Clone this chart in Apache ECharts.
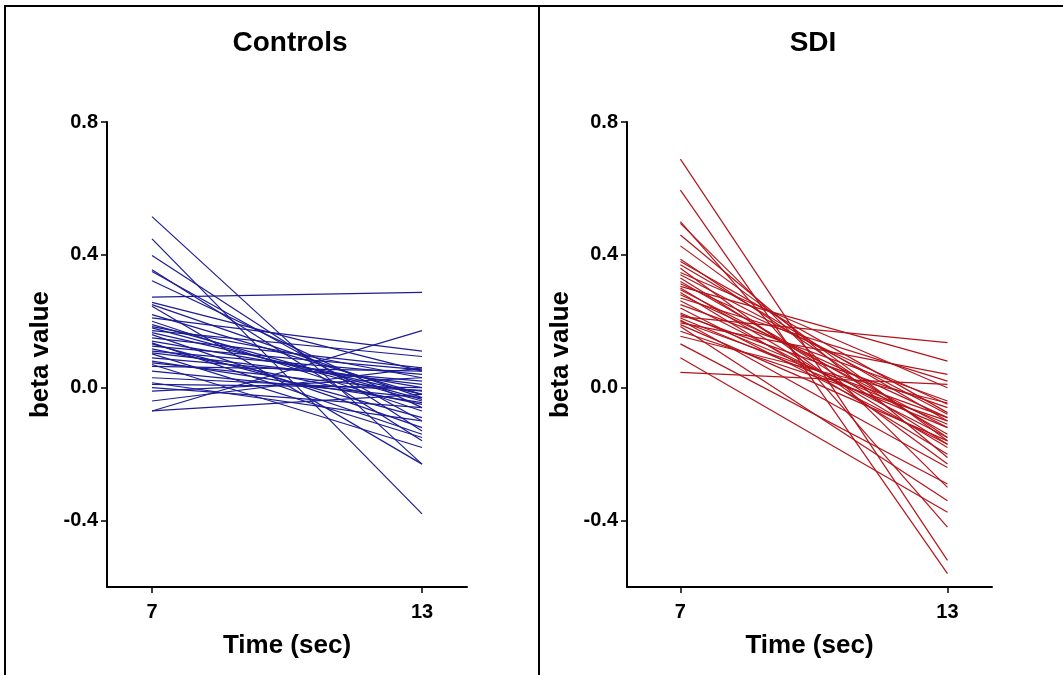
<!DOCTYPE html>
<html>
<head>
<meta charset="utf-8">
<script src="https://cdn.jsdelivr.net/npm/echarts@6/dist/echarts.min.js"></script>
<style>html,body{margin:0;padding:0;background:#fff}#c{width:1063px;height:675px}</style>
</head>
<body>
<div id="c"></div>
<script>
const timePoints = [7, 13];
const xTickLabels = [7, 13];
const yTickLabels = [-0.4, 0, 0.4, 0.8];
const panelTitles = ['Controls', 'SDI'];

const controlsT7 = [0.515, 0.448, 0.398, 0.355, 0.35, 0.322, 0.273, 0.257, 0.25, 0.245, 0.21, 0.2, 0.184, 0.18, 0.172, 0.166, 0.16, 0.15, 0.14, 0.132, 0.117, 0.11, 0.102, 0.09, 0.075, 0.07, 0.064, 0.05, 0.015, 0.01, 0.0, -0.01, -0.04, -0.07, -0.07, 0.19, 0.125, 0.08, 0.03, 0.22, 0.135, 0.105];
const controlsT13 = [-0.23, -0.38, -0.13, -0.16, -0.1, -0.06, 0.287, 0.05, -0.03, -0.23, 0.11, -0.07, 0.03, -0.04, 0.094, -0.02, -0.12, 0.06, 0.0, -0.09, -0.05, 0.04, -0.15, 0.02, -0.01, -0.18, 0.05, -0.03, -0.10, 0.0, -0.06, 0.03, 0.06, 0.172, -0.02, -0.035, 0.054, -0.045, -0.008, -0.02, -0.14, 0.01];

const sdiT7 = [0.688, 0.595, 0.5, 0.495, 0.46, 0.427, 0.387, 0.37, 0.36, 0.347, 0.34, 0.33, 0.313, 0.305, 0.295, 0.287, 0.28, 0.27, 0.262, 0.225, 0.22, 0.214, 0.204, 0.2, 0.195, 0.19, 0.184, 0.132, 0.09, 0.046, 0.25, 0.32, 0.17, 0.24, 0.38, 0.21, 0.3, 0.155];
const sdiT13 = [-0.52, -0.56, -0.42, -0.3, -0.21, -0.16, -0.15, -0.1, -0.23, 0.0, -0.08, -0.17, -0.05, 0.08, -0.12, -0.2, -0.09, 0.02, -0.15, -0.11, -0.06, 0.136, -0.24, -0.09, 0.04, -0.16, -0.34, -0.29, -0.375, 0.01, -0.04, -0.14, -0.1, -0.17, -0.075, -0.12, -0.18, -0.046];

const FONT = 'Liberation Sans, Arial, sans-serif';
const chart = echarts.init(document.getElementById('c'), null, {renderer: 'canvas'});

const grids = [
  {left: 107, right: 596, top: 122, bottom: 88},
  {left: 627, right: 71, top: 122, bottom: 88}
];
const xRanges = [[6, 14], [5.8, 14]];

function mkX(i) {
  return {
    type: 'value', gridIndex: i, min: xRanges[i][0], max: xRanges[i][1],
    name: 'Time (sec)', nameLocation: 'middle', nameGap: 46,
    nameTextStyle: {fontFamily: FONT, fontWeight: 'bold', fontSize: 26, color: '#000'},
    axisLine: {onZero: false, lineStyle: {color: '#000', width: 2}},
    axisTick: {show: true, length: 6, lineStyle: {color: '#000', width: 1.5}, customValues: xTickLabels},
    axisLabel: {fontFamily: FONT, fontWeight: 'bold', fontSize: 20, color: '#000', margin: 15, customValues: xTickLabels},
    splitLine: {show: false}
  };
}
function mkY(i) {
  return {
    type: 'value', gridIndex: i, min: -0.6, max: 0.8,
    name: 'beta value', nameLocation: 'middle', nameGap: 53, nameRotate: 90,
    nameTextStyle: {fontFamily: FONT, fontWeight: 'bold', fontSize: 26, color: '#000'},
    axisLine: {show: true, onZero: false, lineStyle: {color: '#000', width: 2}},
    axisTick: {show: true, length: 6, lineStyle: {color: '#000', width: 1.5}, customValues: yTickLabels},
    axisLabel: {fontFamily: FONT, fontWeight: 'bold', fontSize: 20, color: '#000', margin: 9,
      customValues: yTickLabels, formatter: v => v.toFixed(1)},
    splitLine: {show: false}
  };
}

const series = [];
function addGroup(t7, t13, idx, color) {
  for (let k = 0; k < t7.length; k++) {
    series.push({
      type: 'line', xAxisIndex: idx, yAxisIndex: idx, silent: true,
      data: [[timePoints[0], t7[k]], [timePoints[1], t13[k]]],
      symbol: 'none', lineStyle: {color: color, width: 1.2}, animation: false
    });
  }
}
addGroup(controlsT7, controlsT13, 0, '#1c1c94');
addGroup(sdiT7, sdiT13, 1, '#b3141b');

chart.setOption({
  animation: false,
  title: [
    {text: panelTitles[0], left: 285, top: 24, textAlign: 'center',
      textStyle: {fontFamily: FONT, fontWeight: 'bold', fontSize: 28, color: '#000'}},
    {text: panelTitles[1], left: 808, top: 24, textAlign: 'center',
      textStyle: {fontFamily: FONT, fontWeight: 'bold', fontSize: 28, color: '#000'}}
  ],
  grid: grids,
  xAxis: [mkX(0), mkX(1)],
  yAxis: [mkY(0), mkY(1)],
  series: series,
  graphic: [
    {type: 'line', shape: {x1: 4, y1: 6, x2: 1063, y2: 6}, style: {stroke: '#000', lineWidth: 2}},
    {type: 'line', shape: {x1: 5, y1: 6, x2: 5, y2: 675}, style: {stroke: '#000', lineWidth: 2}},
    {type: 'line', shape: {x1: 539, y1: 6, x2: 539, y2: 675}, style: {stroke: '#000', lineWidth: 2}}
  ]
});
</script>
</body>
</html>
